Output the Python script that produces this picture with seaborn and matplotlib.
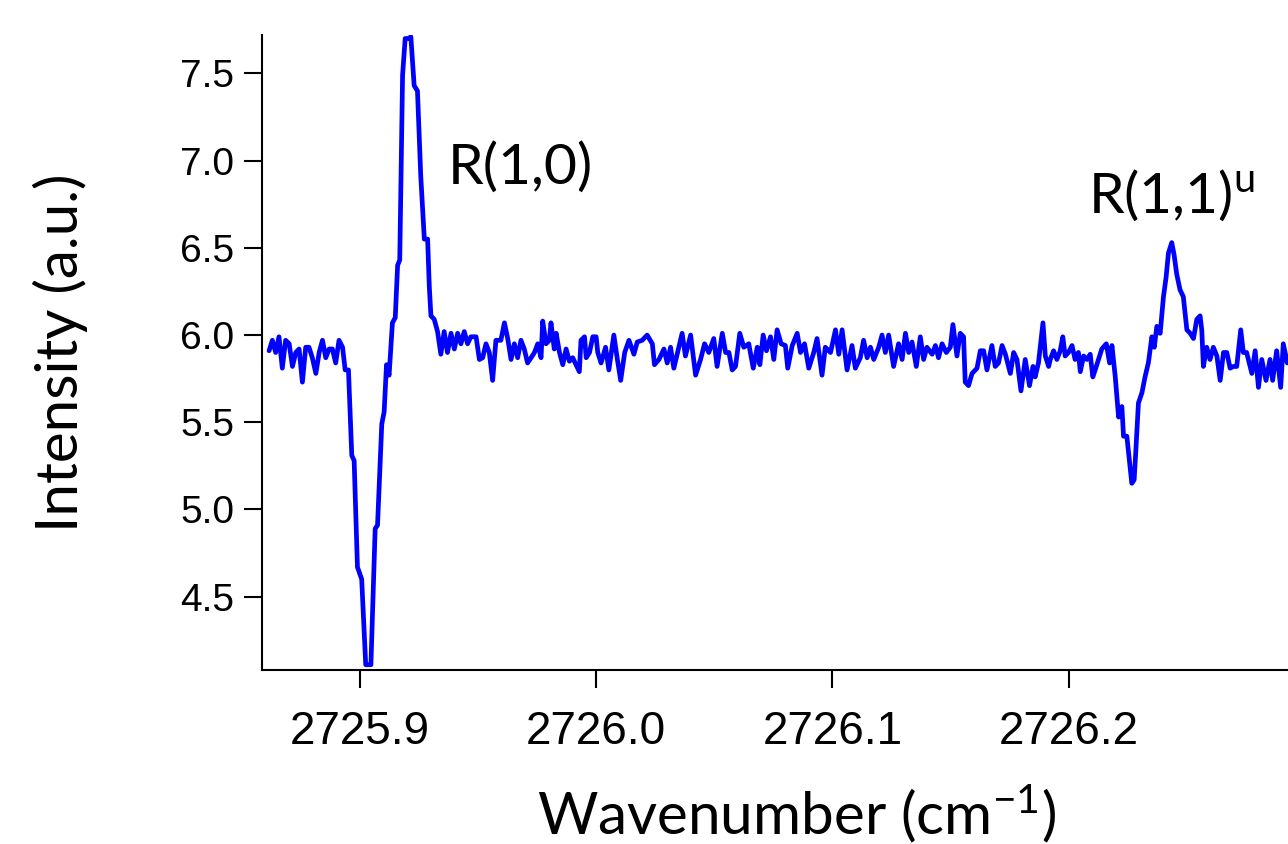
import matplotlib
matplotlib.use("Agg")
import matplotlib.pyplot as plt
import seaborn as sns

# spectrum (wavenumber in cm-1, intensity in a.u.)
wavenumber = [
    2725.8616, 2725.8630, 2725.8644, 2725.8658, 2725.8672, 2725.8686, 2725.8701, 2725.8715,
    2725.8729, 2725.8743, 2725.8757, 2725.8771, 2725.8785, 2725.8799, 2725.8814, 2725.8828,
    2725.8842, 2725.8856, 2725.8870, 2725.8884, 2725.8898, 2725.8912, 2725.8927, 2725.8938,
    2725.8952, 2725.8966, 2725.8976, 2725.8990, 2725.9008, 2725.9025, 2725.9047, 2725.9065,
    2725.9075, 2725.9093, 2725.9103, 2725.9113, 2725.9124, 2725.9138, 2725.9150, 2725.9160,
    2725.9169, 2725.9181, 2725.9192, 2725.9206, 2725.9216, 2725.9223, 2725.9230, 2725.9244,
    2725.9258, 2725.9273, 2725.9287, 2725.9294, 2725.9301, 2725.9315, 2725.9329, 2725.9343,
    2725.9357, 2725.9371, 2725.9386, 2725.9400, 2725.9414, 2725.9428, 2725.9442, 2725.9456,
    2725.9470, 2725.9492, 2725.9506, 2725.9520, 2725.9534, 2725.9548, 2725.9562, 2725.9576,
    2725.9597, 2725.9612, 2725.9626, 2725.9640, 2725.9654, 2725.9668, 2725.9682, 2725.9696,
    2725.9710, 2725.9725, 2725.9739, 2725.9753, 2725.9767, 2725.9774, 2725.9788, 2725.9802,
    2725.9809, 2725.9823, 2725.9831, 2725.9845, 2725.9859, 2725.9873, 2725.9887, 2725.9901,
    2725.9915, 2725.9929, 2725.9936, 2725.9951, 2725.9958, 2725.9972, 2725.9986, 2726.0000,
    2726.0007, 2726.0021,
    2726.0040, 2726.0054, 2726.0075, 2726.0090, 2726.0104, 2726.0121, 2726.0139, 2726.0160,
    2726.0174, 2726.0195, 2726.0216, 2726.0238, 2726.0247, 2726.0266, 2726.0287, 2726.0301,
    2726.0315, 2726.0329, 2726.0350, 2726.0364, 2726.0378, 2726.0400, 2726.0421, 2726.0442,
    2726.0459, 2726.0477, 2726.0498, 2726.0512, 2726.0534, 2726.0548, 2726.0562, 2726.0576,
    2726.0590, 2726.0608, 2726.0625, 2726.0646, 2726.0665, 2726.0682, 2726.0693, 2726.0707,
    2726.0721, 2726.0738, 2726.0752, 2726.0766, 2726.0783, 2726.0801, 2726.0811, 2726.0830,
    2726.0851, 2726.0865, 2726.0882, 2726.0900, 2726.0921, 2726.0935, 2726.0956, 2726.0970,
    2726.0992, 2726.1013, 2726.1027, 2726.1041, 2726.1062,
    2726.1083, 2726.1097, 2726.1118, 2726.1132, 2726.1147, 2726.1161, 2726.1175, 2726.1196,
    2726.1210, 2726.1224, 2726.1238, 2726.1259, 2726.1280, 2726.1295, 2726.1309, 2726.1323,
    2726.1337, 2726.1355, 2726.1372, 2726.1386, 2726.1400, 2726.1422, 2726.1436, 2726.1449,
    2726.1464, 2726.1482, 2726.1499, 2726.1510, 2726.1527, 2726.1541, 2726.1555, 2726.1562,
    2726.1576, 2726.1591, 2726.1612, 2726.1626, 2726.1640, 2726.1654, 2726.1675, 2726.1689,
    2726.1703, 2726.1718, 2726.1732, 2726.1753, 2726.1767, 2726.1781, 2726.1798, 2726.1816,
    2726.1834, 2726.1849, 2726.1858, 2726.1872, 2726.1891, 2726.1901, 2726.1915,
    2726.1922, 2726.1936, 2726.1950, 2726.1964, 2726.1975, 2726.1985, 2726.1999, 2726.2014,
    2726.2027, 2726.2041, 2726.2049, 2726.2063, 2726.2077, 2726.2091, 2726.2102, 2726.2112,
    2726.2126, 2726.2140, 2726.2159, 2726.2173, 2726.2183, 2726.2197, 2726.2211, 2726.2225,
    2726.2232, 2726.2246, 2726.2257, 2726.2267, 2726.2277, 2726.2285, 2726.2295, 2726.2310,
    2726.2323, 2726.2337, 2726.2352, 2726.2362, 2726.2373, 2726.2387, 2726.2401, 2726.2412,
    2726.2422, 2726.2436, 2726.2446, 2726.2457, 2726.2471, 2726.2485, 2726.2500, 2726.2514,
    2726.2528, 2726.2542, 2726.2556, 2726.2563, 2726.2570, 2726.2584, 2726.2598, 2726.2612,
    2726.2627, 2726.2641, 2726.2655, 2726.2669, 2726.2683, 2726.2697, 2726.2711, 2726.2728,
    2726.2739, 2726.2753, 2726.2775, 2726.2789, 2726.2803, 2726.2817, 2726.2835, 2726.2852,
    2726.2863, 2726.2880, 2726.2897, 2726.2908, 2726.2925,
]

intensity = [
    5.91, 5.97, 5.90, 5.99, 5.81, 5.97, 5.95, 5.82,
    5.90, 5.92, 5.73, 5.93, 5.93, 5.87, 5.78, 5.90,
    5.97, 5.87, 5.92, 5.92, 5.84, 5.97, 5.93, 5.80,
    5.80, 5.31, 5.28, 4.67, 4.60, 4.11, 4.11, 4.89,
    4.91, 5.49, 5.56, 5.83, 5.77, 6.07, 6.10, 6.40,
    6.43, 7.49, 7.70, 7.70, 7.71, 7.57, 7.43, 7.40,
    6.91, 6.55, 6.55, 6.28, 6.11, 6.09, 6.02, 5.89,
    6.02, 5.90, 6.01, 5.92, 6.01, 5.95, 6.02, 5.95,
    5.99, 5.99, 5.86, 5.87, 5.95, 5.90, 5.74, 5.97,
    5.97, 6.07, 5.98, 5.86, 5.95, 5.87, 5.97, 5.92,
    5.84, 5.87, 5.90, 5.95, 5.87, 6.08, 5.95, 5.97,
    6.07, 5.92, 6.01, 5.90, 5.83, 5.92, 5.85, 5.87,
    5.83, 5.79, 5.97, 5.99, 5.87, 5.90, 5.99, 5.99,
    5.90, 5.84,
    5.93, 5.80, 6.00, 5.86, 5.74, 5.90, 5.97, 5.89,
    5.96, 5.97, 6.00, 5.95, 5.83, 5.86, 5.92, 5.84,
    5.93, 5.81, 5.93, 6.01, 5.88, 6.00, 5.77, 5.86,
    5.95, 5.90, 5.98, 5.82, 6.01, 5.90, 5.90, 5.80,
    5.82, 6.01, 5.93, 5.95, 5.81, 5.93, 5.83, 6.00,
    5.91, 5.99, 5.86, 6.03, 5.95, 5.94, 5.81, 5.94,
    6.01, 5.90, 5.95, 5.81, 5.90, 5.98, 5.77, 5.93,
    5.90, 6.03, 5.89, 6.03, 5.80,
    5.94, 5.81, 5.87, 5.97, 5.87, 5.93, 5.86, 5.93,
    6.00, 5.90, 6.00, 5.82, 5.95, 5.86, 6.01, 5.90,
    5.96, 5.82, 5.99, 5.86, 5.93, 5.89, 5.94, 5.87,
    5.95, 5.90, 5.93, 6.06, 5.88, 6.01, 5.99, 5.73,
    5.71, 5.78, 5.81, 5.91, 5.91, 5.80, 5.94, 5.82,
    5.84, 5.94, 5.89, 5.78, 5.90, 5.86, 5.68, 5.86,
    5.71, 5.82, 5.76, 5.84, 6.07, 5.88, 5.82,
    5.86, 5.91, 5.86, 5.91, 5.99, 5.88, 5.90, 5.94,
    5.86, 5.90, 5.79, 5.88, 5.86, 5.89, 5.76, 5.80,
    5.86, 5.92, 5.95, 5.84, 5.94, 5.76, 5.53, 5.59,
    5.42, 5.42, 5.28, 5.15, 5.17, 5.36, 5.61, 5.67,
    5.76, 5.84, 5.99, 5.93, 6.05, 6.01, 6.22, 6.33,
    6.47, 6.53, 6.46, 6.35, 6.26, 6.22, 6.03, 6.01,
    5.98, 6.09, 6.11, 6.03, 5.82, 5.93, 5.86, 5.93,
    5.88, 5.74, 5.90, 5.90, 5.81, 5.82, 5.82, 6.03,
    5.90, 5.90, 5.78, 5.91, 5.70, 5.86, 5.74, 5.86,
    5.74, 5.91, 5.70, 5.95, 5.84,
]

x_ticks = [2725.9, 2726.0, 2726.1, 2726.2]
x_tick_labels = ["2725.9", "2726.0", "2726.1", "2726.2"]
y_ticks = [4.5, 5.0, 5.5, 6.0, 6.5, 7.0, 7.5]
y_tick_labels = ["4.5", "5.0", "5.5", "6.0", "6.5", "7.0", "7.5"]

sns.set_style("ticks")
plt.rcParams["font.family"] = ["Liberation Sans", "DejaVu Sans"]
plt.rcParams["text.color"] = "black"
plt.rcParams["axes.labelcolor"] = "black"
plt.rcParams["xtick.color"] = "black"
plt.rcParams["ytick.color"] = "black"
plt.rcParams["mathtext.fontset"] = "custom"
plt.rcParams["mathtext.rm"] = "Lato"
plt.rcParams["mathtext.it"] = "Lato"

fig = plt.figure(figsize=(12.88, 8.44), dpi=100)
ax = fig.add_axes([0.2034, 0.2062, 0.7966, 0.7523])

sns.lineplot(x=wavenumber, y=intensity, color="#0000ff", linewidth=3.4, ax=ax)

ax.set_xlim(2725.8586, 2726.2928)
ax.set_ylim(4.08, 7.72)
ax.set_xticks(x_ticks)
ax.set_xticklabels(x_tick_labels, fontsize=33)
ax.set_yticks(y_ticks)
ax.set_yticklabels(y_tick_labels, fontsize=28)
ax.tick_params(axis="both", direction="out", length=13, width=1.5, color="black",
               labelcolor="black")
ax.tick_params(axis="x", pad=16)
ax.tick_params(axis="y", pad=7)

sns.despine(ax=ax)
for side in ["left", "bottom"]:
    ax.spines[side].set_linewidth(1.5)
    ax.spines[side].set_color("black")

label_font = {"family": "Lato", "size": 42, "color": "black"}
ax.set_xlabel("Wavenumber (cm$^{-1}$)", fontdict=label_font)
ax.set_ylabel("Intensity (a.u.)", fontdict=label_font)
ax.xaxis.set_label_coords(0.521, -0.178)
ax.yaxis.set_label_coords(-0.17, 0.5)

ax.text(2725.9372, 6.87, "R(1,0)", fontsize=41, family="Lato", va="baseline", color="black")
ax.text(2726.2082, 6.70, "R(1,1)$^{\\mathrm{u}}$", fontsize=41, family="Lato",
        va="baseline", color="black")

fig.savefig("out.png", dpi=100)
